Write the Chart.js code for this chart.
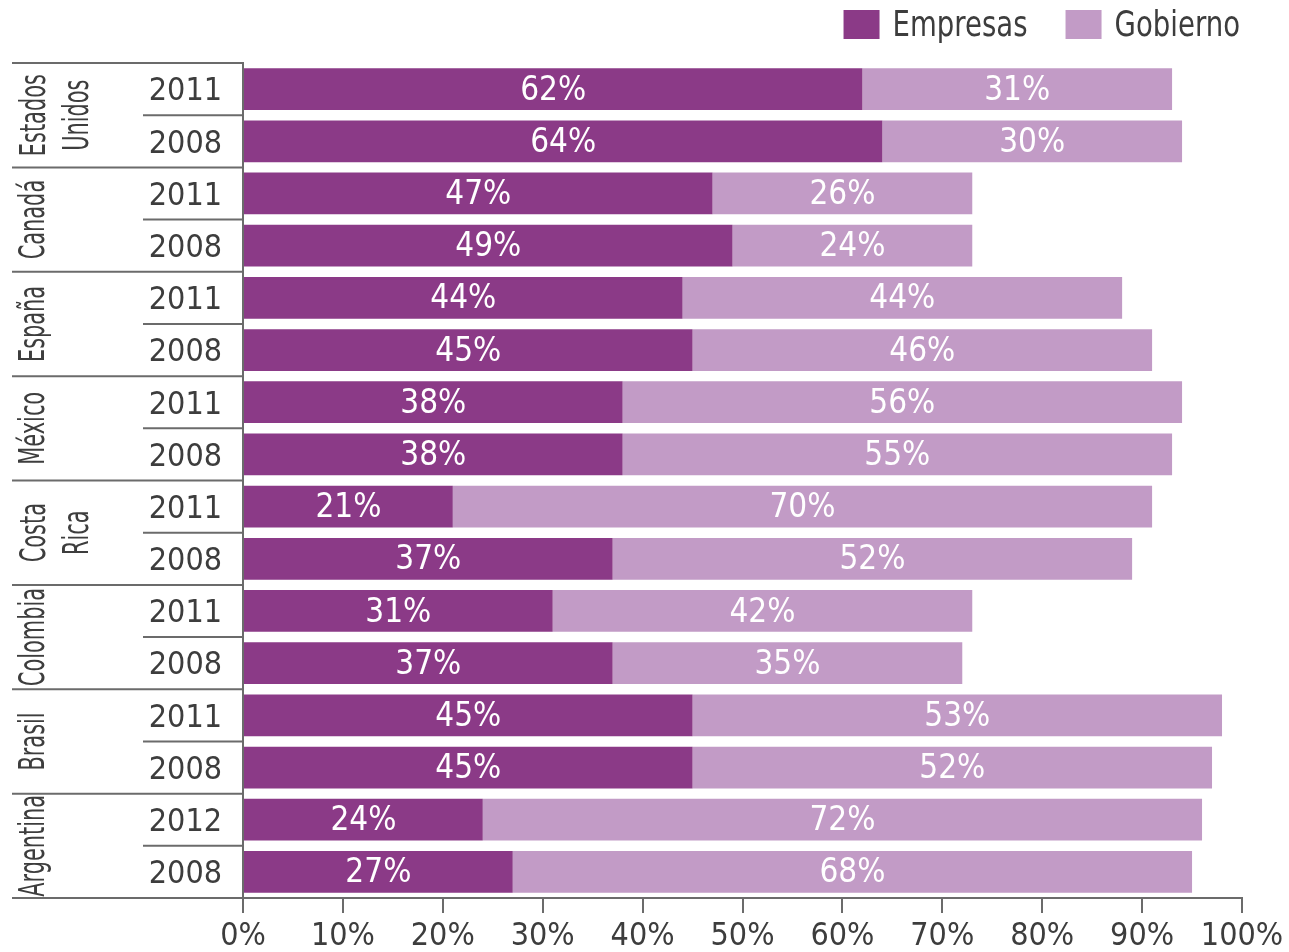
<!DOCTYPE html>
<html>
<head>
<meta charset="utf-8">
<script src="https://cdn.jsdelivr.net/npm/chart.js@4/dist/chart.umd.min.js"></script>
<style>
  html, body { margin: 0; padding: 0; background: #ffffff; }
  #chart { display: block; }
</style>
</head>
<body>
<canvas id="chart" width="1289" height="952"></canvas>
<script>
// Row labels (years), grouped two per country, top to bottom
const years = ['2011', '2008', '2011', '2008', '2011', '2008', '2011', '2008',
               '2011', '2008', '2011', '2008', '2011', '2008', '2012', '2008'];

// Country names, one entry per pair of rows (multi-line names split)
const countries = [['Estados', 'Unidos'], ['Canadá'], ['España'], ['México'],
                   ['Costa', 'Rica'], ['Colombia'], ['Brasil'], ['Argentina']];

// Share of funding, in percent
const empresas = [62, 64, 47, 49, 44, 45, 38, 38, 21, 37, 31, 37, 45, 45, 24, 27];
const gobierno = [31, 30, 26, 24, 44, 46, 56, 55, 70, 52, 42, 35, 53, 52, 72, 68];

// x-axis ticks
const xTicks = [0, 10, 20, 30, 40, 50, 60, 70, 80, 90, 100];

const FAMILY = "'DejaVu Sans Condensed', 'Liberation Sans Narrow', sans-serif";
const TEXT = '#3d3d3d';
const RULE = '#6b6b6b';
const C_EMP = '#8b3a87';
const C_GOB = '#c29bc6';

// Left-hand table: separators between years / countries and rotated country names
const tablePlugin = {
  id: 'countryTable',
  afterDraw(chart) {
    const ctx = chart.ctx;
    const ys = chart.scales.y;
    const { left, top, bottom } = chart.chartArea;
    const n = years.length;
    ctx.save();
    ctx.strokeStyle = RULE;
    ctx.lineWidth = 2;
    const hline = (x0, y) => {
      ctx.beginPath();
      ctx.moveTo(x0, y);
      ctx.lineTo(left, y);
      ctx.stroke();
    };
    hline(12, top);
    for (let i = 1; i < n; i++) {
      const y = (ys.getPixelForValue(i - 1) + ys.getPixelForValue(i)) / 2;
      hline(i % 2 === 0 ? 12 : 143, y);
    }
    hline(12, bottom);

    // Country names, rotated to read bottom-to-top, in a tightly condensed face
    ctx.fillStyle = TEXT;
    ctx.font = '35px ' + FAMILY;
    ctx.textAlign = 'center';
    ctx.textBaseline = 'alphabetic';
    const squeeze = 82 / ctx.measureText('Estados').width;
    countries.forEach((lines, g) => {
      const cy = (ys.getPixelForValue(2 * g) + ys.getPixelForValue(2 * g + 1)) / 2;
      const baselines = lines.length === 1 ? [44] : [45, 88];
      lines.forEach((txt, k) => {
        ctx.save();
        ctx.translate(baselines[k], cy);
        ctx.rotate(-Math.PI / 2);
        ctx.scale(squeeze, 1);
        ctx.fillText(txt, 0, 0);
        ctx.restore();
      });
    });
    ctx.restore();
  }
};

// Percentage labels centred in each bar segment
const valueLabelPlugin = {
  id: 'valueLabels',
  afterDatasetsDraw(chart) {
    const ctx = chart.ctx;
    ctx.save();
    ctx.fillStyle = '#ffffff';
    ctx.font = '33px ' + FAMILY;
    ctx.textAlign = 'center';
    ctx.textBaseline = 'middle';
    chart.data.datasets.forEach((ds, di) => {
      const meta = chart.getDatasetMeta(di);
      meta.data.forEach((el, i) => {
        const cx = (el.x + el.base) / 2;
        ctx.fillText(ds.data[i] + '%', cx, el.y + 2);
      });
    });
    ctx.restore();
  }
};

// Legend in the top-right corner, built from the datasets
const legendPlugin = {
  id: 'topLegend',
  afterDraw(chart) {
    const ctx = chart.ctx;
    const box = 36, boxH = 29, gap = 13, itemGap = 38;
    ctx.save();
    ctx.font = '36px ' + FAMILY;
    ctx.textBaseline = 'alphabetic';
    ctx.textAlign = 'left';
    const squeeze = 135 / ctx.measureText('Empresas').width;
    const items = chart.data.datasets.map(ds => ({
      label: ds.label, color: ds.backgroundColor, w: ctx.measureText(ds.label).width * squeeze
    }));
    const total = items.reduce((s, it) => s + box + gap + it.w, 0) + itemGap * (items.length - 1);
    let x = 1240 - total;
    items.forEach(it => {
      ctx.fillStyle = it.color;
      ctx.fillRect(x, 10, box, boxH);
      ctx.fillStyle = TEXT;
      ctx.save();
      ctx.translate(x + box + gap, 36);
      ctx.scale(squeeze, 1);
      ctx.fillText(it.label, 0, 0);
      ctx.restore();
      x += box + gap + it.w + itemGap;
    });
    ctx.restore();
  }
};

new Chart(document.getElementById('chart'), {
  type: 'bar',
  data: {
    labels: years,
    datasets: [
      { label: 'Empresas', data: empresas, backgroundColor: C_EMP },
      { label: 'Gobierno', data: gobierno, backgroundColor: C_GOB }
    ]
  },
  options: {
    indexAxis: 'y',
    responsive: false,
    animation: false,
    layout: { padding: { top: 63, right: 47, bottom: 0, left: 0 } },
    datasets: { bar: { barPercentage: 0.8, categoryPercentage: 1 } },
    plugins: { legend: { display: false }, tooltip: { enabled: false } },
    scales: {
      x: {
        stacked: true,
        min: 0,
        max: 100,
        afterBuildTicks(scale) { scale.ticks = xTicks.map(v => ({ value: v })); },
        ticks: {
          callback: v => v + '%',
          font: { family: FAMILY, size: 32 },
          color: TEXT,
          padding: 4,
          maxRotation: 0,
          autoSkip: false
        },
        grid: { drawOnChartArea: false, drawTicks: true, tickLength: 15, color: RULE, lineWidth: 2 },
        border: { display: true, color: RULE, width: 2 },
        afterFit(scale) { scale.height = 54; }
      },
      y: {
        stacked: true,
        ticks: { font: { family: FAMILY, size: 32 }, color: TEXT, padding: 21, labelOffset: 3, autoSkip: false },
        grid: { drawOnChartArea: false, drawTicks: false },
        border: { display: true, color: RULE, width: 2 },
        afterFit(scale) { scale.width = 243; }
      }
    }
  },
  plugins: [tablePlugin, valueLabelPlugin, legendPlugin]
});
</script>
</body>
</html>
